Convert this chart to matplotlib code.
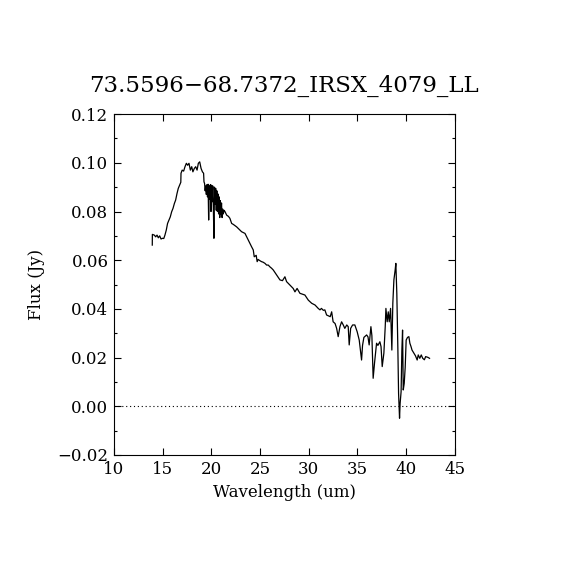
import matplotlib
matplotlib.use("Agg")
import matplotlib.pyplot as plt
from matplotlib.ticker import MultipleLocator

title = "73.5596\u221268.7372_IRSX_4079_LL"
xlabel = "Wavelength (um)"
ylabel = "Flux (Jy)"

wavelength = [
    13.93, 13.94, 14.14, 14.28, 14.42, 14.55, 14.69, 14.83, 14.97, 15.11, 15.23,
    15.37, 15.50, 15.64, 15.78, 15.92, 16.06, 16.20, 16.33, 16.47, 16.60, 16.74,
    16.86, 16.88, 17.00, 17.15, 17.29, 17.43, 17.56, 17.70, 17.84, 17.98, 18.10,
    18.25, 18.39, 18.53, 18.66, 18.80, 18.94, 19.08, 19.20, 19.24,
    19.30, 19.36, 19.42, 19.48, 19.54, 19.60, 19.66, 19.72, 19.78, 19.84, 19.90,
    19.96, 20.02, 20.08, 20.14, 20.20, 20.26, 20.32, 20.38, 20.44, 20.50, 20.56,
    20.62, 20.68, 20.74, 20.80, 20.86, 20.92, 20.98, 21.04, 21.10, 21.16, 21.22,
    21.30, 21.39, 21.57, 21.75, 21.90, 22.08, 22.25, 22.59, 22.93, 23.10, 23.45,
    23.78, 24.13, 24.30, 24.40, 24.60, 24.70, 24.80, 24.98, 25.15, 25.30, 25.50,
    25.67, 25.84, 26.00, 26.18, 26.35, 26.70, 27.04, 27.30, 27.55, 27.72, 28.06,
    28.40, 28.58, 28.80, 29.09, 29.60, 29.95, 30.30, 30.64, 30.97, 31.15, 31.30,
    31.50, 31.65, 31.83, 32.20, 32.35, 32.50, 32.70, 32.86, 33.02, 33.20, 33.37,
    33.54, 33.70, 33.90, 34.05, 34.15, 34.30, 34.50, 34.73, 34.97, 35.18, 35.30,
    35.42, 35.52, 35.66, 35.94, 36.08, 36.20, 36.38, 36.48, 36.61, 36.75, 36.96,
    37.10, 37.30, 37.42, 37.54, 37.71, 37.85, 37.92, 38.05, 38.16, 38.26, 38.40,
    38.53, 38.63, 38.74, 38.87, 38.94, 39.04, 39.15, 39.22, 39.32, 39.38, 39.48,
    39.56, 39.63, 39.70, 39.80, 39.90, 40.00, 40.14, 40.28, 40.38, 40.50, 40.60,
    40.80, 40.96, 41.13, 41.24, 41.40, 41.55, 41.70, 41.87, 42.00, 42.23, 42.40,
]
flux = [
    0.0662, 0.0706, 0.0703, 0.0696, 0.0703, 0.0692, 0.0700, 0.0687, 0.0690, 0.0689, 0.0703,
    0.0724, 0.0751, 0.0765, 0.0778, 0.0799, 0.0813, 0.0833, 0.0847, 0.0874, 0.0895, 0.0909,
    0.0920, 0.0957, 0.0970, 0.0966, 0.0984, 0.0998, 0.0990, 0.0998, 0.0970, 0.0984, 0.0963,
    0.0977, 0.0984, 0.0970, 0.0998, 0.1004, 0.0977, 0.0963, 0.0957, 0.0922,
    0.0915, 0.0885, 0.0905, 0.0870, 0.0910, 0.0860, 0.0912, 0.0765, 0.0905, 0.0850, 0.0910,
    0.0800, 0.0908, 0.0840, 0.0905, 0.0820, 0.0690, 0.0900, 0.0830, 0.0895, 0.0805, 0.0885,
    0.0800, 0.0872, 0.0790, 0.0860, 0.0775, 0.0845, 0.0790, 0.0835, 0.0775, 0.0810, 0.0790,
    0.0805, 0.0800, 0.0785, 0.0780, 0.0772, 0.0751, 0.0747, 0.0737, 0.0724, 0.0717, 0.0710,
    0.0683, 0.0655, 0.0642, 0.0614, 0.0620, 0.0594, 0.0603, 0.0598, 0.0594, 0.0592, 0.0587,
    0.0580, 0.0580, 0.0573, 0.0567, 0.0560, 0.0539, 0.0519, 0.0516, 0.0532, 0.0512, 0.0498,
    0.0484, 0.0470, 0.0484, 0.0464, 0.0457, 0.0436, 0.0423, 0.0416, 0.0402, 0.0396, 0.0402,
    0.0394, 0.0396, 0.0375, 0.0368, 0.0388, 0.0347, 0.0340, 0.0320, 0.0286, 0.0327, 0.0347,
    0.0334, 0.0320, 0.0334, 0.0327, 0.0252, 0.0320, 0.0334, 0.0334, 0.0306, 0.0272, 0.0230,
    0.0190, 0.0250, 0.0283, 0.0293, 0.0285, 0.0252, 0.0327, 0.0290, 0.0115, 0.0177, 0.0259,
    0.0250, 0.0265, 0.0245, 0.0163, 0.0218, 0.0327, 0.0402, 0.0347, 0.0388, 0.0347, 0.0402,
    0.0231, 0.0423, 0.0519, 0.0560, 0.0587, 0.0464, 0.0231, 0.0053, -0.0049, 0.0012, 0.0060,
    0.0231, 0.0313, 0.0067, 0.0094, 0.0160, 0.0272, 0.0283, 0.0286, 0.0259, 0.0245, 0.0231,
    0.0218, 0.0207, 0.0190, 0.0211, 0.0197, 0.0211, 0.0197, 0.0191, 0.0204, 0.0201, 0.0197,
]

plt.rcParams['font.family'] = ['DejaVu Serif']
fig = plt.figure(figsize=(5.7, 5.7), dpi=100)
ax = fig.add_axes([0.2, 0.2018, 0.598, 0.598])

ax.plot(wavelength, flux, color='black', linewidth=0.9)
ax.axhline(0.0, color='black', linewidth=0.8, linestyle=(0, (1, 2.5)))

ax.set_xlim(10, 45)
ax.set_ylim(-0.02, 0.12)
ax.xaxis.set_major_locator(MultipleLocator(5))
ax.yaxis.set_major_locator(MultipleLocator(0.02))
ax.yaxis.set_minor_locator(MultipleLocator(0.01))
ax.yaxis.set_major_formatter(matplotlib.ticker.FuncFormatter(
    lambda v, p: ("\u2212" if v < -1e-9 else "") + f"{abs(v):.2f}"))
ax.tick_params(which='both', direction='in', top=True, right=True,
               labelsize=12, width=0.8)
ax.tick_params(which='major', length=5, pad=4)
ax.tick_params(which='minor', length=2.5)
for s in ax.spines.values():
    s.set_linewidth(0.8)

ax.set_xlabel(xlabel, fontsize=12, labelpad=5)
ax.set_ylabel(ylabel, fontsize=12, labelpad=9)
ax.set_title(title, fontsize=16.5, pad=16)

fig.savefig("out.png", dpi=100)
